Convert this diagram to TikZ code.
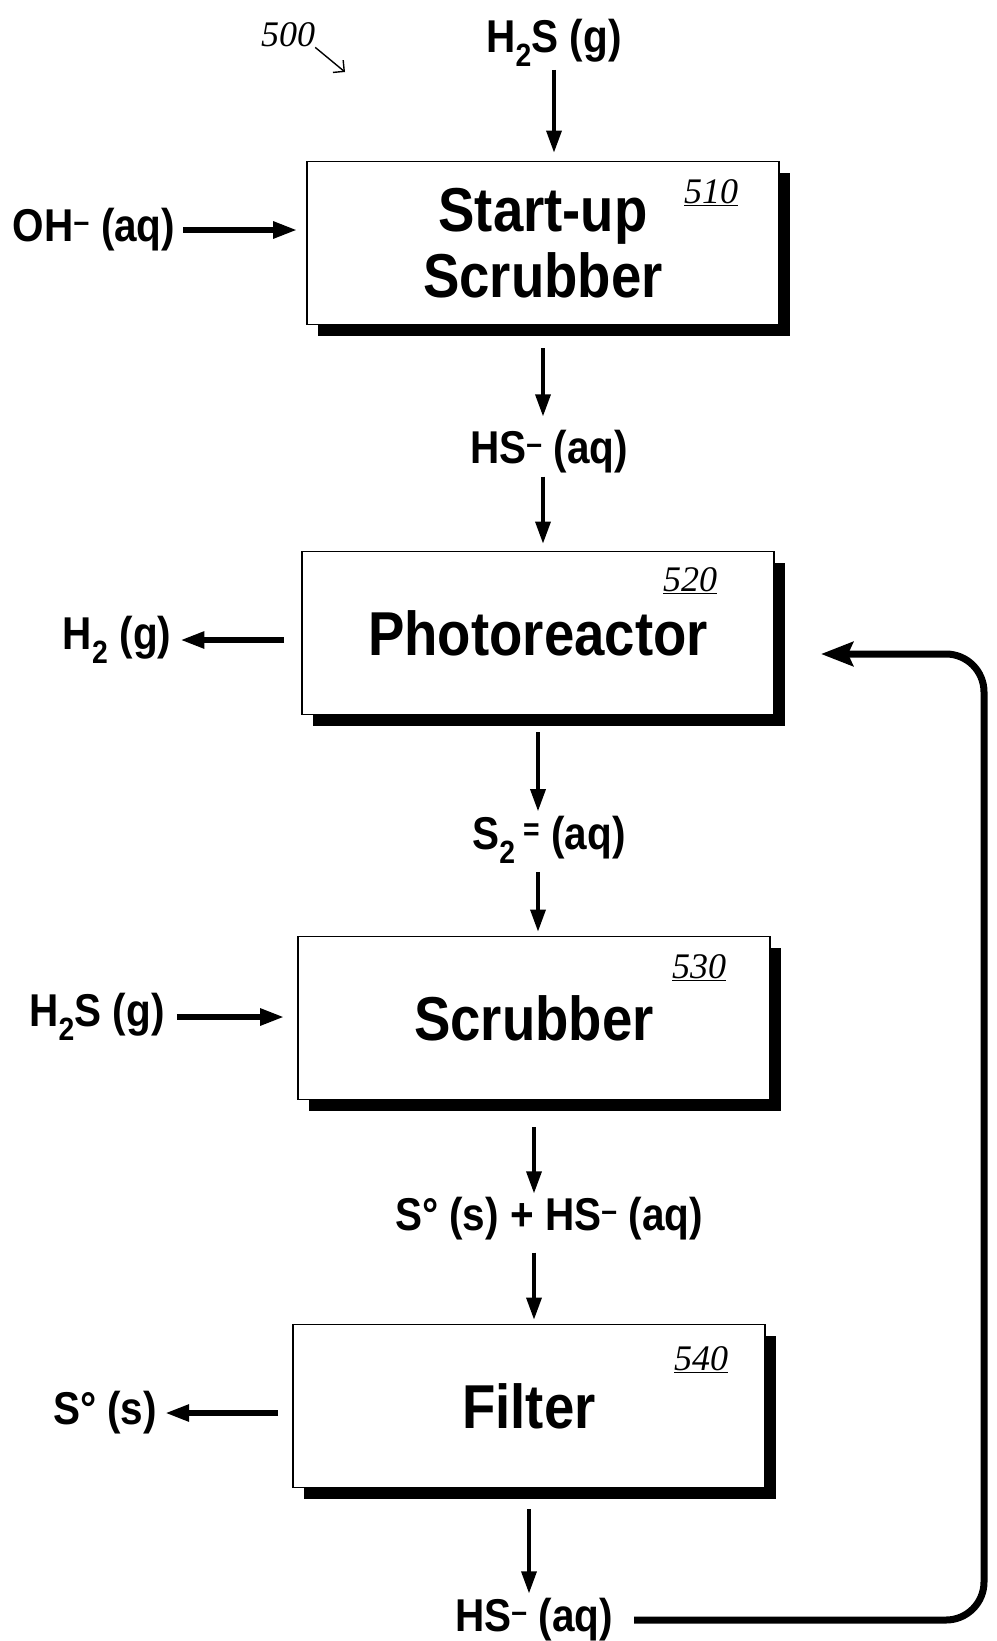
\documentclass[tikz,border=0pt]{standalone}
\usepackage{fontspec}
\setmainfont{Liberation Sans}[FakeStretch=0.88]
\newfontfamily\handfont{Liberation Serif}
\usetikzlibrary{arrows.meta,shadows,positioning}

\begin{document}
\begin{tikzpicture}[x=1pt, y=-1pt, >={Triangle[length=22pt,width=15pt]},
    unit/.style={draw, line width=1.8pt, fill=white, minimum width=472pt, minimum height=163pt,
        align=center, font=\bfseries\fontsize{62}{66}\selectfont,
        drop shadow={shadow xshift=11pt, shadow yshift=-11pt, fill=black, opacity=1}},
    stream/.style={inner sep=0pt, font=\bfseries\fontsize{46}{50}\selectfont},
    tag/.style={inner sep=0pt, font=\handfont\itshape\fontsize{36}{38}\selectfont},
    down/.style={->, line width=3.4pt},
    side/.style={-{Triangle[length=24pt,width=16pt]}, line width=5.6pt},
    back/.style={-{Stealth[length=32pt,width=24pt,inset=5pt]}, line width=7pt, rounded corners=38pt}]
    \fill[white] (0,0) rectangle (996,1641);
    \useasboundingbox (0,0) rectangle (996,1641);

    \node[unit] (u_start) at (543,243) {Start-up\\Scrubber};
    \node[unit] (u_photo) at (538,633) {Photoreactor};
    \node[unit] (u_scrub) at (534,1018) {Scrubber};
    \node[unit] (u_filter) at (529,1406) {Filter};

    \node[stream] (s_h2s) at (554,43) {H\textsubscript{2}S (g)};
    \node[stream] (s_oh) at (94,230) {OH\textsuperscript{--} (aq)};
    \node[stream] (s_hs) at (549,452) {HS\textsuperscript{--} (aq)};
    \node[stream] (s_h2) at (117,640) {H\textsubscript{2} (g)};
    \node[stream] (s_s2) at (549,840) {S\textsubscript{2}\,\textsuperscript{=} (aq)};
    \node[stream] (s_h2sb) at (97,1017) {H\textsubscript{2}S (g)};
    \node[stream] (s_mix) at (549,1219) {S° (s) + HS\textsuperscript{--} (aq)};
    \node[stream] (s_s0) at (105,1413) {S° (s)};
    \node[stream] (s_hsb) at (534,1620) {HS\textsuperscript{--} (aq)};

    \node[tag] (t_500) at (288,35) {500};
    \node[tag] (t_510) at (711,193) {\underline{510}};
    \node[tag] (t_520) at (690,581) {\underline{520}};
    \node[tag] (t_530) at (699,968) {\underline{530}};
    \node[tag] (t_540) at (701,1360) {\underline{540}};

    \coordinate (c_500) at (345,72);
    \coordinate (c_turn) at (984,1620);
    \coordinate (c_top) at (984,654);
    \coordinate (c_end) at (821,654);

    \draw[down, shorten <=3pt, shorten >=8pt] (s_h2s.south) -- (s_h2s.south |- u_start.north);
    \draw[side, shorten <=8pt, shorten >=9pt] (s_oh.east) -- (s_oh.east -| u_start.west);
    \draw[down, shorten <=23pt, shorten >=14pt] (u_start.south) -- (u_start.south |- s_hs.north);
    \draw[down, shorten <=3pt, shorten >=7pt] (u_start.south |- s_hs.south) -- (u_start.south |- u_photo.north);
    \draw[side, shorten <=17pt, shorten >=9pt] (s_h2.east -| u_photo.west) -- (s_h2.east);
    \draw[down, shorten <=17pt, shorten >=5pt] (u_photo.south) -- (u_photo.south |- s_s2.north);
    \draw[down, shorten <=8pt, shorten >=4pt] (u_photo.south |- s_s2.south) -- (u_photo.south |- u_scrub.north);
    \draw[side, shorten <=12pt, shorten >=13pt] (s_h2sb.east) -- (s_h2sb.east -| u_scrub.west);
    \draw[down, shorten <=27pt, shorten >=4pt] (u_scrub.south) -- (u_scrub.south |- s_mix.north);
    \draw[down, shorten <=12pt, shorten >=4pt] (u_scrub.south |- s_mix.south) -- (u_scrub.south |- u_filter.north);
    \draw[side, shorten <=14pt, shorten >=8pt] (s_s0.east -| u_filter.west) -- (s_s0.east);
    \draw[down, shorten <=21pt, shorten >=5pt] (u_filter.south) -- (u_filter.south |- s_hsb.north);
    \draw[back, shorten <=21pt] (s_hsb.east) -- (c_turn) -- (c_top) -- (c_end);
    \draw[-{Straight Barb[length=8pt]}, line width=1.4pt] (t_500.south east) -- (c_500);
\end{tikzpicture}
\end{document}
